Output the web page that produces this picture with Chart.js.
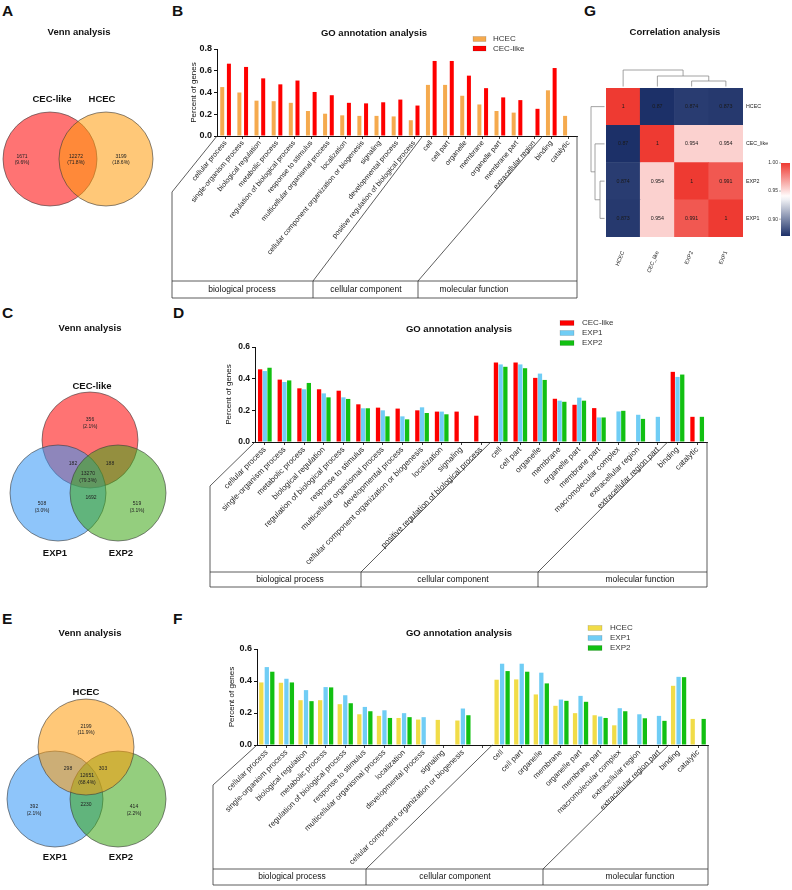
<!DOCTYPE html>
<html>
<head>
<meta charset="utf-8">
<script src="https://cdn.jsdelivr.net/npm/chart.js@4.4.1/dist/chart.umd.min.js"></script>
<style>
html,body{margin:0;padding:0;background:#fff;}
body{width:792px;height:890px;position:relative;overflow:hidden;font-family:"Liberation Sans",Arial,Helvetica,sans-serif;}
.pl{position:absolute;font-weight:bold;font-size:15.5px;line-height:16px;color:#111;}
canvas{position:absolute;}
</style>
</head>
<body>
<div class="pl" style="left:2px;top:3px">A</div>
<div class="pl" style="left:172px;top:3px">B</div>
<div class="pl" style="left:584px;top:3px">G</div>
<div class="pl" style="left:2px;top:305px">C</div>
<div class="pl" style="left:173px;top:305px">D</div>
<div class="pl" style="left:2px;top:611px">E</div>
<div class="pl" style="left:173px;top:611px">F</div>
<script>
// ---------------- DATA ----------------
const goTitle = 'GO annotation analysis';
const goGroups = ['biological process', 'cellular component', 'molecular function'];

// Panel B
const catsB = ['cellular process','single-organism process','biological regulation','metabolic process','regulation of biological process','response to stimulus','multicellular organismal process','localization','cellular component organization or biogenesis','signaling','developmental process','positive regulation of biological process','cell','cell part','organelle','membrane','organelle part','membrane part','extracellular region','binding','catalytic'];
const hcecB = [0.45,0.40,0.325,0.32,0.305,0.23,0.205,0.19,0.185,0.185,0.18,0.145,0.47,0.47,0.37,0.29,0.23,0.215,null,0.42,0.185];
const cecB  = [0.665,0.635,0.53,0.475,0.51,0.405,0.375,0.305,0.30,0.31,0.335,0.28,0.69,0.69,0.555,0.44,0.355,0.33,0.25,0.625,null];
const groupSizesB = [12,7,2];
const yTicksB = [0,0.2,0.4,0.6,0.8];

// Panel D
const catsD = ['cellular process','single-organism process','metabolic process','biological regulation','regulation of biological process','response to stimulus','multicellular organismal process','developmental process','cellular component organization or biogenesis','localization','signaling','positive regulation of biological process','cell','cell part','organelle','membrane','organelle part','membrane part','macromolecular complex','extracellular region','extracellular region part','binding','catalytic'];
const cecD  = [0.459,0.394,0.339,0.333,0.324,0.238,0.217,0.211,0.20,0.192,0.192,0.166,0.502,0.502,0.405,0.273,0.235,0.214,null,null,null,0.443,0.159];
const exp1D = [0.448,0.379,0.333,0.307,0.282,0.213,0.20,0.162,0.219,0.192,null,null,0.49,0.49,0.432,0.261,0.28,0.155,0.193,0.172,0.159,0.411,null];
const exp2D = [0.469,0.389,0.373,0.282,0.272,0.213,0.162,0.143,0.183,0.175,null,null,0.475,0.466,0.392,0.254,0.261,0.155,0.197,0.146,null,0.426,0.159];
const groupSizesD = [12,9,2];
const yTicksD = [0,0.2,0.4,0.6];

// Panel F
const catsF = ['cellular process','single-organism process','biological regulation','metabolic process','regulation of biological process','response to stimulus','multicellular organismal process','localization','developmental process','signaling','cellular component organization or biogenesis','','cell','cell part','organelle','membrane','organelle part','membrane part','macromolecular complex','extracellular region','extracellular region part','binding','catalytic'];
const hcecF = [0.391,0.389,0.28,0.28,0.255,0.192,0.182,0.169,0.159,0.157,0.153,null,0.408,0.41,0.316,0.245,0.199,0.186,0.123,null,null,0.37,0.163];
const exp1F = [0.487,0.414,0.343,0.362,0.311,0.238,0.217,0.199,0.174,null,0.228,null,0.508,0.508,0.452,0.284,0.307,0.178,0.23,0.192,0.182,0.426,null];
const exp2F = [0.458,0.391,0.274,0.36,0.261,0.211,0.169,0.174,null,null,0.186,null,0.462,0.458,0.385,0.276,0.27,0.169,0.211,0.167,0.151,0.424,0.163];
const groupSizesF = [12,9,2];
const yTicksF = [0,0.2,0.4,0.6];

// Venn A: regions [CEC-like only, both, HCEC only]
const vennANames = ['CEC-like','HCEC'];
const vennACounts = [1671,12272,3199];
const vennAPcts = ['(9.6%)','(71.8%)','(18.6%)'];
// Venn C: regions [CEC only, CEC&EXP1, CEC&EXP2, all, EXP1&EXP2, EXP1 only, EXP2 only]
const vennCNames = ['CEC-like','EXP1','EXP2'];
const vennCCounts = [356,182,188,13270,1692,508,519];
const vennCPcts = ['(2.1%)','','','(79.3%)','','(3.0%)','(3.1%)'];
// Venn E: regions [HCEC only, HCEC&EXP1, HCEC&EXP2, all, EXP1&EXP2, EXP1 only, EXP2 only]
const vennENames = ['HCEC','EXP1','EXP2'];
const vennECounts = [2199,298,303,12651,2230,392,414];
const vennEPcts = ['(11.9%)','','','(68.4%)','','(2.1%)','(2.2%)'];

// Heatmap G
const heatNames = ['HCEC','CEC_like','EXP2','EXP1'];
const corrHCEC = [1,0.87,0.874,0.873];
const corrCEC  = [0.87,1,0.954,0.954];
const corrEXP2 = [0.874,0.954,1,0.991];
const corrEXP1 = [0.873,0.954,0.991,1];
const colorbarTicks = [1.00,0.95,0.90];

// ---------------- HELPERS ----------------
const FONT = '"Liberation Sans", Arial, Helvetica, sans-serif';
Chart.defaults.font.family = FONT;
Chart.defaults.color = '#111';

function mkCanvas(b){const c=document.createElement('canvas');c.width=b[2];c.height=b[3];c.style.left=b[0]+'px';c.style.top=b[1]+'px';c.style.width=b[2]+'px';c.style.height=b[3]+'px';document.body.appendChild(c);return c;}
function line(ctx,x1,y1,x2,y2){ctx.beginPath();ctx.moveTo(x1,y1);ctx.lineTo(x2,y2);ctx.stroke();}
function txt(ctx,s,x,y,size,bold,align,color){ctx.font=(bold?'bold ':'')+size+'px '+FONT;ctx.textAlign=align||'center';ctx.textBaseline='middle';ctx.fillStyle=color||'#111';ctx.fillText(s,x,y);}

// ---------------- GO BAR CHARTS ----------------
function makeGO(o){
  const [L,T,W,H]=o.box; const A=o.area; const YW=34;
  const cv=mkCanvas(o.box);
  const ymax=o.yTicks[o.yTicks.length-1]; const step=o.yTicks[1]-o.yTicks[0];
  new Chart(cv,{type:'bar',
    data:{labels:o.labels,datasets:o.series.map(s=>({label:s.name,data:s.data,backgroundColor:s.color,borderWidth:0,barPercentage:o.barPct,categoryPercentage:o.catPct}))},
    options:{responsive:false,animation:false,events:[],
      layout:{padding:{left:A.left-L-YW,right:L+W-A.right,top:A.top-T,bottom:0}},
      plugins:{legend:{display:false},tooltip:{enabled:false},title:{display:false}},
      scales:{
        x:{type:'category',
          ticks:{autoSkip:false,minRotation:o.rot,maxRotation:o.rot,font:{size:o.fs},color:'#1e1e1e',padding:0},
          grid:{display:true,drawOnChartArea:false,offset:false,tickLength:3,color:'#111',lineWidth:0.8},
          border:{display:true,color:'#111',width:1},
          afterFit:s=>{s.height=T+H-A.bottom;s.paddingLeft=0;s.paddingRight=0;}},
        y:{type:'linear',min:0,max:ymax,
          ticks:{stepSize:step,callback:v=>Number(v).toFixed(1),font:{size:o.yfs,weight:'bold'},color:'#111',padding:2},
          grid:{display:true,drawOnChartArea:false,tickLength:3,color:'#111',lineWidth:1},
          border:{display:true,color:'#111',width:1},
          title:{display:true,text:'Percent of genes',font:{size:8},color:'#111',padding:{top:o.ytPad,bottom:0}},
          afterFit:s=>{s.width=YW;s.paddingTop=0;s.paddingBottom=0;}}
      }},
    plugins:[{id:'deco',afterDraw(ch){
      const c=ch.ctx, ca=ch.chartArea, xs=ch.scales.x; const X=v=>v-L, Y=v=>v-T; const g=o.gbox;
      c.save(); c.strokeStyle='#333'; c.lineWidth=0.8;
      line(c,X(g.left),Y(g.leftTop),X(g.left),Y(g.rowBottom));
      line(c,X(g.left),Y(g.leftTop),ca.left,ca.bottom);
      line(c,ca.right,ca.bottom,ca.right,Y(g.rowBottom));
      line(c,X(g.left),Y(g.rowTop),ca.right,Y(g.rowTop));
      line(c,X(g.left),Y(g.rowBottom),ca.right,Y(g.rowBottom));
      let idx=0;
      o.groupSizes.forEach((n,k)=>{idx+=n; if(k<o.groupSizes.length-1){
        const bx=(xs.getPixelForValue(idx-1)+xs.getPixelForValue(idx))/2; const dx=X(g.dividers[k]);
        line(c,dx,Y(g.rowTop),dx,Y(g.rowBottom)); line(c,dx,Y(g.rowTop),bx,ca.bottom);}});
      goGroups.forEach((name,k)=>txt(c,name,X(g.textX[k]),Y(g.textY),8.5,false,'center','#111'));
      txt(c,goTitle,X(o.title.x),Y(o.title.y),9.5,true,'center','#111');
      const lg=o.legend;
      ch.data.datasets.forEach((d,i)=>{const yy=Y(lg.y+i*lg.dy);
        c.fillStyle=d.backgroundColor; c.fillRect(X(lg.x),yy-lg.h/2,lg.w,lg.h);
        c.strokeStyle='rgba(0,0,0,0.25)'; c.lineWidth=0.5; c.strokeRect(X(lg.x),yy-lg.h/2,lg.w,lg.h);
        txt(c,d.label,X(lg.tx),yy,8,false,'left','#333');});
      c.restore();
    }}]
  });
}

const RED='#fe0000', ORANGE='#f5aa4e', BLUE='#70cdf5', GREEN='#12c012', YELLOW='#f1dc48';

makeGO({box:[160,22,425,282], area:{left:217,right:577,top:49,bottom:136},
  labels:catsB, yTicks:yTicksB, groupSizes:groupSizesB,
  series:[{name:'HCEC',data:hcecB,color:ORANGE},{name:'CEC-like',data:cecB,color:RED}],
  barPct:0.6, catPct:0.78, rot:50, fs:7.2, yfs:9, ytPad:6,
  gbox:{left:172,leftTop:192,rowTop:281,rowBottom:298,dividers:[313,418],textX:[242,366,474],textY:290},
  title:{x:374,y:33}, legend:{x:473,y:39,dy:9.5,w:13,h:5,tx:493}});

makeGO({box:[200,305,520,290], area:{left:255,right:707,top:347,bottom:442},
  labels:catsD, yTicks:yTicksD, groupSizes:groupSizesD,
  series:[{name:'CEC-like',data:cecD,color:RED},{name:'EXP1',data:exp1D,color:BLUE},{name:'EXP2',data:exp2D,color:GREEN}],
  barPct:0.91, catPct:0.72, rot:45, fs:8, yfs:8.5, ytPad:3,
  gbox:{left:210,leftTop:486,rowTop:572,rowBottom:587,dividers:[361,538],textX:[290,453,640],textY:580},
  title:{x:459,y:329}, legend:{x:560,y:323,dy:10,w:14,h:5,tx:582}});

makeGO({box:[200,605,520,285], area:{left:257,right:708,top:649,bottom:745},
  labels:catsF, yTicks:yTicksF, groupSizes:groupSizesF,
  series:[{name:'HCEC',data:hcecF,color:YELLOW},{name:'EXP1',data:exp1F,color:BLUE},{name:'EXP2',data:exp2F,color:GREEN}],
  barPct:0.78, catPct:0.84, rot:45, fs:7.8, yfs:9, ytPad:4,
  gbox:{left:213,leftTop:785,rowTop:869,rowBottom:885,dividers:[366,543],textX:[292,455,640],textY:877},
  title:{x:459,y:633}, legend:{x:588,y:628,dy:10,w:14,h:5,tx:610}});

// ---------------- VENN ----------------
function makeVenn(o){
  const [L,T,W,H]=o.box; const cv=mkCanvas(o.box);
  new Chart(cv,{type:'scatter',
    data:{datasets:o.circles.map(ci=>({label:ci.name,data:[{x:ci.cx,y:ci.cy}],
      backgroundColor:ci.fill,borderColor:'#3a3a3a',borderWidth:0.6,pointBackgroundColor:ci.fill,pointBorderColor:'#3a3a3a',pointBorderWidth:0.6,
      order:ci.order,clip:false,showLine:false,
      pointRadius:ctx=>{const s=ctx.chart.scales&&ctx.chart.scales.x; const v=s?Math.abs(s.getPixelForValue(ci.cx+ci.r)-s.getPixelForValue(ci.cx)):NaN; return (isFinite(v)&&v>0)?v:ci.r;},
      pointHoverRadius:ci.r}))},
    options:{responsive:false,animation:false,events:[],layout:{padding:0,autoPadding:false},
      scales:{x:{type:'linear',display:false,min:L,max:L+W},y:{type:'linear',display:false,min:T,max:T+H,reverse:true}},
      plugins:{legend:{display:false},tooltip:{enabled:false}}},
    plugins:[{id:'vtext',afterDraw(ch){
      const c=ch.ctx,xs=ch.scales.x,ys=ch.scales.y; const P=(x,y)=>[xs.getPixelForValue(x),ys.getPixelForValue(y)];
      const t=P(o.title.x,o.title.y); txt(c,'Venn analysis',t[0],t[1],9.5,true);
      o.circles.forEach(ci=>{const p=P(ci.lx,ci.ly); txt(c,ci.name,p[0],p[1],9.5,true);});
      o.counts.forEach((n,i)=>{const p=P(o.pos[i][0],o.pos[i][1]); const pc=o.pcts[i];
        txt(c,String(n),p[0],p[1]-(pc?3.3:0),5,false,'center','#222');
        if(pc) txt(c,pc,p[0],p[1]+3.3,5,false,'center','#222');});
    }}]
  });
}

const cRed='rgba(255,0,0,0.55)', cOrange='rgba(255,155,10,0.55)', cBlue='rgba(50,150,245,0.55)', cGreen='rgba(60,165,20,0.55)';

makeVenn({box:[0,20,170,220], title:{x:79,y:32},
  circles:[{name:vennANames[0],cx:50,cy:159,r:47,fill:cRed,order:2,lx:52,ly:99},
           {name:vennANames[1],cx:106,cy:159,r:47,fill:cOrange,order:1,lx:102,ly:99}],
  counts:vennACounts, pcts:vennAPcts, pos:[[22,159.5],[76,159.5],[121,159.5]]});

makeVenn({box:[0,318,170,250], title:{x:90,y:328},
  circles:[{name:vennCNames[0],cx:90,cy:440,r:48,fill:cRed,order:3,lx:92,ly:386},
           {name:vennCNames[1],cx:58,cy:493,r:48,fill:cBlue,order:2,lx:55,ly:553},
           {name:vennCNames[2],cx:118,cy:493,r:48,fill:cGreen,order:1,lx:121,ly:553}],
  counts:vennCCounts, pcts:vennCPcts, pos:[[90,423],[73,464],[110,464],[88,477],[91,498],[42,507],[137,507]]});

makeVenn({box:[0,622,170,250], title:{x:90,y:633},
  circles:[{name:vennENames[0],cx:86,cy:747,r:48,fill:cOrange,order:1,lx:86,ly:692},
           {name:vennENames[1],cx:55,cy:799,r:48,fill:cBlue,order:3,lx:55,ly:857},
           {name:vennENames[2],cx:118,cy:799,r:48,fill:cGreen,order:2,lx:121,ly:857}],
  counts:vennECounts, pcts:vennEPcts, pos:[[86,729.5],[68,769],[103,769],[87,779],[86,805],[34,810],[134,810]]});

// ---------------- HEATMAP ----------------
function corrColor(v){
  const navy=[28,48,104], white=[255,255,255], red=[238,58,50]; const lo=0.87, mid=0.94, hi=1.0;
  let a,b,t; if(v<=mid){a=navy;b=white;t=(v-lo)/(mid-lo);}else{a=white;b=red;t=(v-mid)/(hi-mid);}
  t=Math.max(0,Math.min(1,t)); return 'rgb('+a.map((x,i)=>Math.round(x+(b[i]-x)*t)).join(',')+')';
}
(function(){
  const HB=[560,0,232,285]; const [HL,HT,HW,HH]=HB; const cv=mkCanvas(HB);
  const area={left:606,right:743,top:88,bottom:237};
  const rowsBT=[corrEXP1,corrEXP2,corrCEC,corrHCEC]; const namesBT=[heatNames[3],heatNames[2],heatNames[1],heatNames[0]];
  new Chart(cv,{type:'bar',
    data:{labels:heatNames,datasets:rowsBT.map((r,i)=>({label:namesBT[i],data:r.map(()=>1),corr:r,backgroundColor:r.map(corrColor),borderWidth:0,barPercentage:1,categoryPercentage:1}))},
    options:{responsive:false,animation:false,events:[],
      layout:{padding:{left:area.left-HL,right:HL+HW-area.right,top:area.top-HT,bottom:0}},
      plugins:{legend:{display:false},tooltip:{enabled:false}},
      scales:{
        x:{stacked:true,grid:{display:false},border:{display:false},
           ticks:{autoSkip:false,minRotation:68,maxRotation:68,font:{size:5.5},color:'#222',padding:5},
           afterFit:s=>{s.height=HT+HH-area.bottom;s.paddingLeft=0;s.paddingRight=0;}},
        y:{stacked:true,min:0,max:rowsBT.length,display:false}
      }},
    plugins:[{id:'heatdeco',afterDraw(ch){
      const c=ch.ctx, ca=ch.chartArea, xs=ch.scales.x, ys=ch.scales.y; const X=v=>v-HL, Y=v=>v-HT;
      c.save();
      ch.data.datasets.forEach((d,i)=>{const meta=ch.getDatasetMeta(i);
        meta.data.forEach((el,j)=>{txt(c,String(d.corr[j]),el.x,(el.y+el.base)/2,5.3,false,'center','#1a1a1a');});
        const e0=meta.data[0]; txt(c,d.label,ca.right+3,(e0.y+e0.base)/2,5.3,false,'left','#222');});
      c.strokeStyle='#8a8a8a'; c.lineWidth=0.8;
      const cx=j=>xs.getPixelForValue(j); const yb=ca.top-1.5;
      const x0=cx(0),x1=cx(1),x2=cx(2),x3=cx(3); const h23=Y(81),h123=Y(76),hr=Y(70);
      const m23=(x2+x3)/2, m123=(x1+m23)/2;
      line(c,x2,yb,x2,h23);line(c,x3,yb,x3,h23);line(c,x2,h23,x3,h23);
      line(c,x1,yb,x1,h123);line(c,m23,h23,m23,h123);line(c,x1,h123,m23,h123);
      line(c,x0,yb,x0,hr);line(c,m123,h123,m123,hr);line(c,x0,hr,m123,hr);
      const ry=k=>ys.getPixelForValue(k+0.5); const xr=ca.left-1.5;
      const yH=ry(3),yC=ry(2),y2=ry(1),y1=ry(0); const v23=X(600),v123=X(595),vr=X(591);
      const m=(y2+y1)/2, m2=(yC+m)/2;
      line(c,xr,y2,v23,y2);line(c,xr,y1,v23,y1);line(c,v23,y2,v23,y1);
      line(c,xr,yC,v123,yC);line(c,v23,m,v123,m);line(c,v123,yC,v123,m);
      line(c,xr,yH,vr,yH);line(c,v123,m2,vr,m2);line(c,vr,yH,vr,m2);
      txt(c,'Correlation analysis',X(675),Y(32),9.5,true,'center','#111');
      const cbT=Y(163), cbB=Y(236), cbL=X(781), cbW=9; const vTop=1.0, vBot=0.87;
      const vy=v=>cbT+(vTop-v)/(vTop-vBot)*(cbB-cbT);
      const gr=c.createLinearGradient(0,cbT,0,cbB);
      for(let k=0;k<=20;k++){const v=vTop-(vTop-vBot)*k/20; gr.addColorStop(k/20,corrColor(v));}
      c.fillStyle=gr; c.fillRect(cbL,cbT,cbW,cbB-cbT);
      c.strokeStyle='#666'; c.lineWidth=0.5;
      colorbarTicks.forEach(v=>{const yy=vy(v); line(c,cbL-2,yy,cbL,yy); txt(c,v.toFixed(2),cbL-3,yy,5,false,'right','#333');});
      c.restore();
    }}]
  });
})();
</script>
</body>
</html>
